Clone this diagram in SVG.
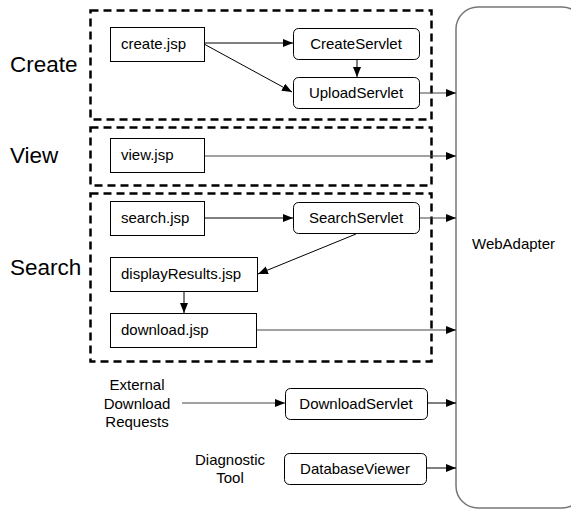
<svg xmlns="http://www.w3.org/2000/svg" width="571" height="510" viewBox="0 0 571 510">
<style>
  .grp { fill: none; stroke: #000; stroke-width: 2.5; stroke-dasharray: 8 5; }
  .box { fill: #fff; stroke: #000; stroke-width: 1; }
  .t { font-family: "Liberation Sans", Arial, sans-serif; font-size: 15px; fill: #000; }
  .big { font-family: "Liberation Sans", Arial, sans-serif; font-size: 22.5px; fill: #000; }
  .c { text-anchor: middle; }
  .edge { fill: none; stroke: #000; stroke-width: 1; marker-end: url(#arr); }
  .edge.g { stroke: #444; }
</style>
<defs>
  <marker id="arr" markerUnits="userSpaceOnUse" markerWidth="11" markerHeight="9" refX="10" refY="4" orient="auto">
    <path d="M0,0 L10,4 L0,8 z" fill="#000"/>
  </marker>
</defs>
<rect width="571" height="510" fill="#fff"/>

<g id="groups">
  <rect class="grp" x="90.5" y="10.5" width="341" height="109"/>
  <rect class="grp" x="90.5" y="127.5" width="341" height="58"/>
  <rect class="grp" x="90.5" y="193.5" width="341" height="168"/>
  <text class="big" x="10" y="72">Create</text>
  <text class="big" x="10" y="163">View</text>
  <text class="big" x="10" y="275">Search</text>
</g>

<g id="webadapter">
  <rect x="456" y="7" width="128" height="501" rx="22" ry="22" fill="#fff" stroke="#777" stroke-width="1.5"/>
  <text class="t" x="472" y="249">WebAdapter</text>
</g>

<g id="connectors">
  <line class="edge" x1="204" y1="43" x2="293" y2="43"/>
  <line class="edge" x1="204" y1="44" x2="292" y2="92"/>
  <line class="edge" x1="357" y1="59" x2="357" y2="77"/>
  <line class="edge g" x1="419" y1="93" x2="456" y2="93"/>
  <line class="edge g" x1="204" y1="156" x2="456" y2="156"/>
  <line class="edge" x1="204" y1="218" x2="293" y2="218"/>
  <line class="edge g" x1="419" y1="218" x2="456" y2="218"/>
  <line class="edge" x1="356" y1="234" x2="258" y2="274"/>
  <line class="edge" x1="184" y1="291" x2="184" y2="313"/>
  <line class="edge g" x1="257" y1="330" x2="456" y2="330"/>
  <line class="edge g" x1="182" y1="403" x2="285" y2="403"/>
  <line class="edge" x1="428" y1="403" x2="456" y2="403"/>
  <line class="edge" x1="427" y1="468" x2="456" y2="468"/>
</g>

<g id="create-jsp">
  <rect class="box" x="110.5" y="27.5" width="94" height="34"/>
  <text class="t" x="121" y="49">create.jsp</text>
</g>
<g id="create-servlet">
  <rect class="box" x="293.5" y="28.5" width="126" height="31" rx="5"/>
  <text class="t c" x="356" y="49">CreateServlet</text>
</g>
<g id="upload-servlet">
  <rect class="box" x="293.5" y="77.5" width="126" height="31" rx="5"/>
  <text class="t c" x="356" y="98">UploadServlet</text>
</g>
<g id="view-jsp">
  <rect class="box" x="110.5" y="138.5" width="94" height="34"/>
  <text class="t" x="121" y="160">view.jsp</text>
</g>
<g id="search-jsp">
  <rect class="box" x="110.5" y="201.5" width="94" height="34"/>
  <text class="t" x="121" y="223">search.jsp</text>
</g>
<g id="search-servlet">
  <rect class="box" x="293.5" y="202.5" width="126" height="31" rx="5"/>
  <text class="t c" x="356" y="223">SearchServlet</text>
</g>
<g id="display-results-jsp">
  <rect class="box" x="110.5" y="257.5" width="147" height="34"/>
  <text class="t" x="121" y="279">displayResults.jsp</text>
</g>
<g id="download-jsp">
  <rect class="box" x="110.5" y="313.5" width="146" height="34"/>
  <text class="t" x="121" y="335">download.jsp</text>
</g>
<g id="external">
  <text class="t c" x="137" y="390">External</text>
  <text class="t c" x="137" y="408.5">Download</text>
  <text class="t c" x="137" y="427">Requests</text>
</g>
<g id="download-servlet">
  <rect class="box" x="285.5" y="388.5" width="142" height="31" rx="5"/>
  <text class="t c" x="356" y="409">DownloadServlet</text>
</g>
<g id="diagnostic">
  <text class="t c" x="230" y="465">Diagnostic</text>
  <text class="t c" x="230" y="483">Tool</text>
</g>
<g id="database-viewer">
  <rect class="box" x="284.5" y="453.5" width="142" height="31" rx="5"/>
  <text class="t c" x="355" y="474">DatabaseViewer</text>
</g>
</svg>
